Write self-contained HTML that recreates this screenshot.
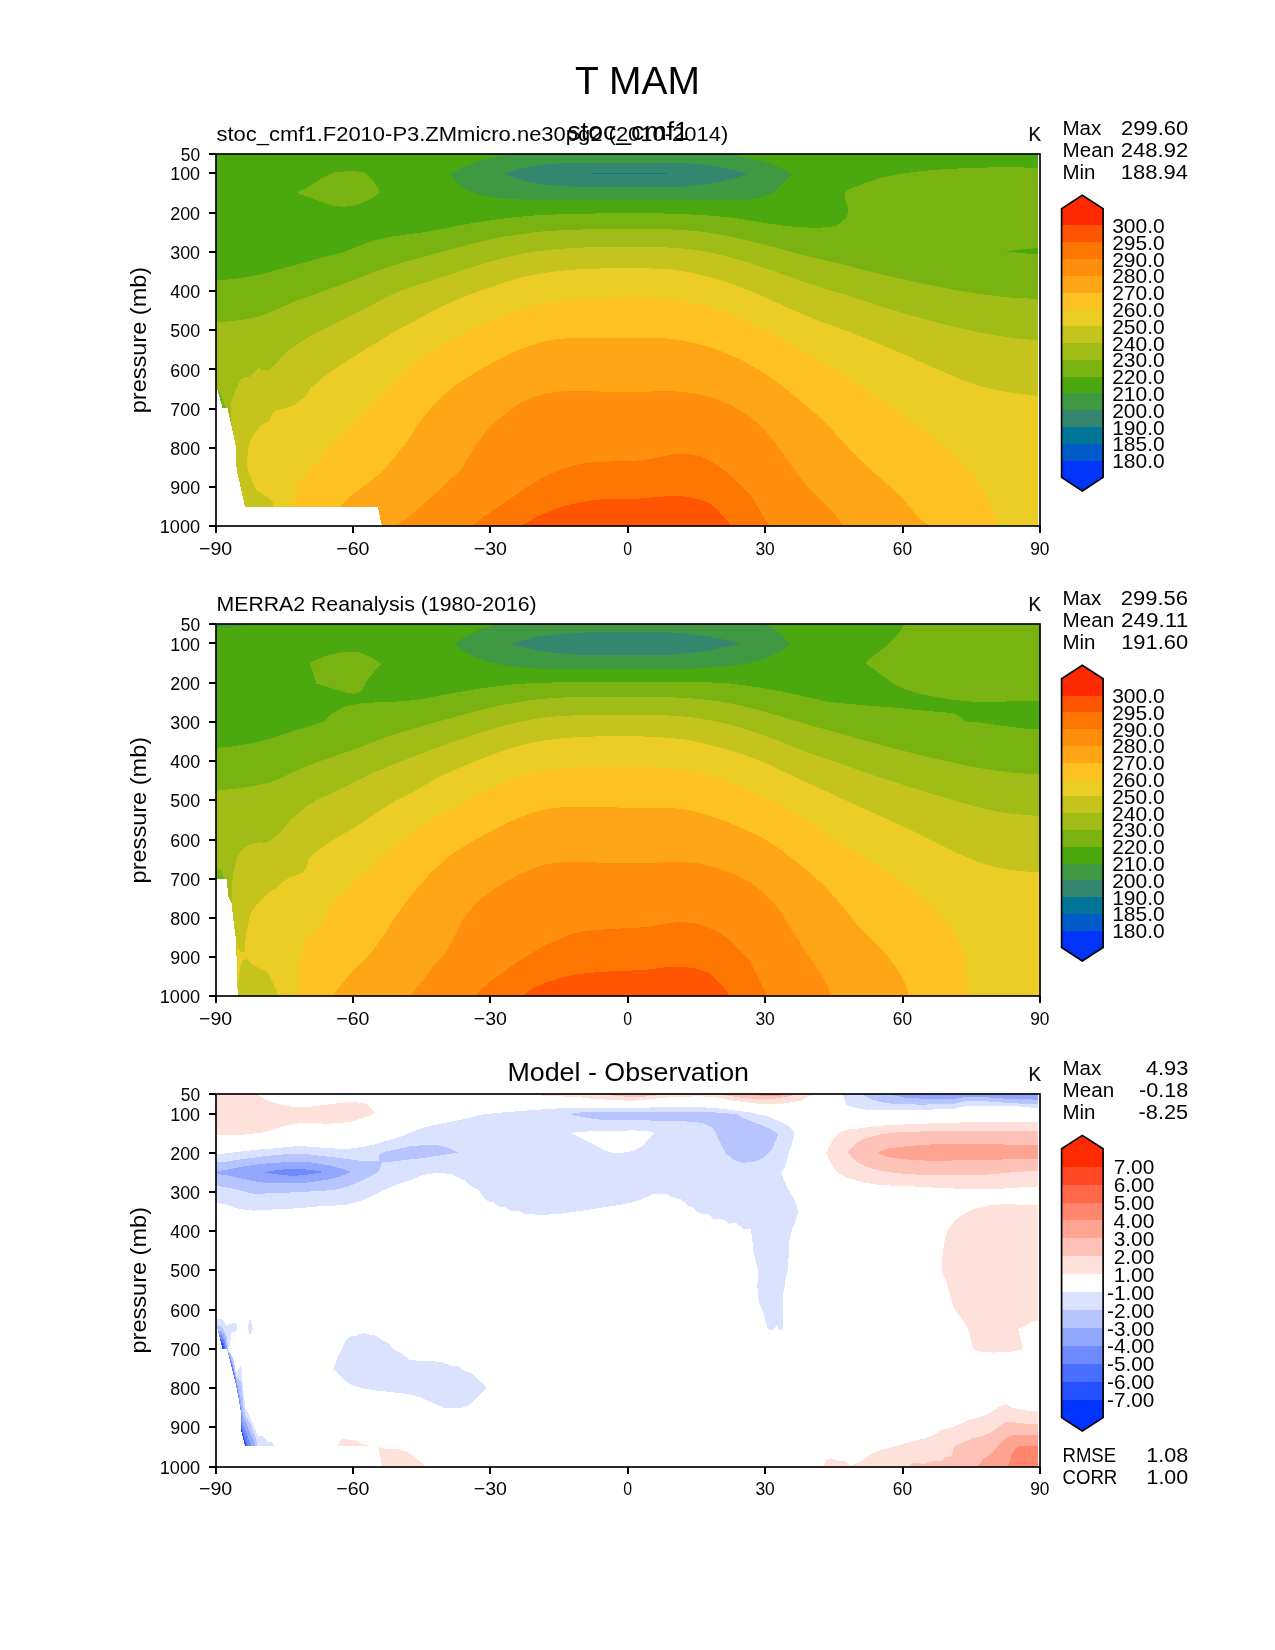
<!DOCTYPE html>
<html lang="en"><head><meta charset="utf-8"><title>T MAM</title>
<style>html,body{margin:0;padding:0;background:#fff}svg{display:block}text{font-family:"Liberation Sans",sans-serif;fill:#000}</style></head>
<body>
<svg width="1275" height="1650" viewBox="0 0 1275 1650">
<rect width="1275" height="1650" fill="#fff"/>
<defs>
<clipPath id="c0"><rect x="216" y="154" width="824" height="372"/></clipPath>
<clipPath id="c1"><rect x="216" y="624" width="824" height="372"/></clipPath>
<clipPath id="c2"><rect x="216" y="1094" width="824" height="373"/></clipPath>
</defs>
<g clip-path="url(#c0)" shape-rendering="crispEdges">
<rect x="215.6" y="153.8" width="822.4" height="372.6" fill="#4ca80f"/>
<polygon points="449.9,173.8 463.6,166.6 476.9,161.6 491.8,157.5 505.1,155 512,153.8 732,153.8 735.4,155 750.4,158.3 763.7,161.6 775.3,165.8 783.7,169.1 792,174.1 783.7,183.3 775.3,191.6 767,195.7 757,198.2 747.1,199.6 717.1,199.9 634,199.9 588.3,200.2 555,200.2 525.1,199.9 505.1,198.6 488.5,196.6 475.2,193.6 463.6,188.2 455.3,180.8" fill="#3f9842"/>
<polygon points="503.8,173.8 515.1,170 530.1,166.6 546.7,164.1 563.3,163 588.3,162.5 634,162.5 667.3,162.8 690.5,163.3 708.8,165.3 725.5,168.3 737.1,170.8 747.9,173.8 733.8,178.6 717.1,182.4 700.5,184.9 683.9,186.6 658.9,186.9 634,186.9 604.9,186.9 571.7,186.6 546.7,184.9 530.1,182.4 515.1,178.3" fill="#35866f"/>
<line x1="591.9" y1="173.4" x2="666.9" y2="173.4" stroke="#007598" stroke-width="0.8"/>
<polygon points="296.8,192.9 309.8,185.8 323.1,177.4 334.7,172.4 348,171.1 359.6,171.6 365.5,173.3 373,180.8 377.9,187.4 379.9,192.9 373,197.4 363,202.4 353,205.7 343,206.9 333,205.7 323.1,202.4 309.8,197.4" fill="#79b311"/>
<polygon points="215.6,280 230,279.4 243.3,277.7 259.9,274.7 276.5,270 293.1,265.6 309.8,261.1 326.4,256.4 343,252.3 351.3,248.9 359.7,245.6 368,242.3 376.3,239.8 392.9,236.5 409.5,234 422,232.6 438.6,229.5 455.3,226.2 471.9,223.2 488.5,220.7 505.1,218.2 521.8,216.5 538.4,215.2 555,214.5 571.7,214 588.3,213.7 604.9,213.2 634,212.7 655.6,213.2 675.6,214 700.5,214.8 717.1,216.2 733.8,217.8 750.4,220.7 767,223.2 783.7,225.7 800.3,227.3 816.9,227.7 828.5,227.3 836.9,225.2 841.9,221.5 846,218.2 848,213 848,207 846.5,203 845,198.5 845,192.5 846,190.7 862.6,184.1 879.3,178.3 895.9,174.6 912.5,172.1 929.1,170.3 945.8,169.1 962.4,168.3 987.3,167.5 1012.3,167.1 1038,168 1038,526.4 215.6,526.4" fill="#79b311"/>
<polygon points="1006.5,251.4 1020.6,249.4 1038,248.1 1038,253.9 1027.2,253.6 1013.9,252.3" fill="#4ca80f"/>
<polygon points="215.6,322.4 230,321.3 243.3,319.6 256.6,317.1 268.2,313 279.8,308 293.1,302.1 309.8,296 326.4,290 343,283.9 359.7,277.7 376.3,271.1 392.9,265.6 409.5,260.6 422,257.3 438.6,252.8 455.3,248.1 471.9,243.9 488.5,239.8 505.1,236.5 521.8,234 538.4,231.8 555,230.6 571.7,229.8 588.3,229.3 604.9,229 634,228.5 658.9,229 680.6,229.8 700.5,231.5 717.1,234 733.8,237.3 750.4,241.1 767,245.1 783.7,249.8 800.3,254.4 816.9,258.4 833.5,262.2 846,265.3 862.6,269.7 879.3,273.9 895.9,277.7 912.5,281.4 929.1,285 945.8,288.3 962.4,291.3 979,293.8 995.7,296 1012.3,297.7 1028.9,298.5 1038,298.8 1038,526.4 215.6,526.4" fill="#a1bc17"/>
<polygon points="217.5,389 222.5,408.2 225.8,408.2 221.6,396.5 219.1,390.7" fill="#79b311"/>
<polygon points="232.4,430 230.8,415 230.8,403.2 235,391.5 240,380 244,377.4 250,376.6 255,371.6 258.7,367.4 261.5,370 268.2,370.4 276.5,363.3 283.2,355 289.8,349 299.8,342.9 309.8,336.2 323.1,329.6 336.4,322.9 351.3,315.4 368,307.1 384.6,298 401.2,290.5 422,283.5 438.6,278.4 455.3,272.7 471.9,267.2 488.5,262.2 505.1,257.7 521.8,253.9 538.4,251.1 555,249.3 571.7,248.1 588.3,247.3 604.9,246.9 634,246.8 654,246.9 673.9,247.8 692.2,249.4 708.8,252.3 725.5,256.1 742.1,260.6 758.7,265.9 775.3,271.7 792,277.7 808.6,283.4 825.2,288.8 846,295 862.6,300.5 879.3,306 895.9,311 912.5,315.8 929.1,320.4 945.8,324.9 962.4,328.7 979,332.4 995.7,335.4 1012.3,337.9 1028.9,339.6 1038,340.1 1038,526.4 232.4,526.4" fill="#c4c41d"/>
<polygon points="273.2,506.6 272.4,501.3 264.9,495.4 256.6,490.5 252.4,481.3 248.6,473 246.9,463 247.9,449.7 249.9,441.4 254.9,433.1 259.9,426.4 264.9,423.1 269,420.6 273.2,413.1 276.5,410.1 283.2,409 293.1,405.7 299.8,400.7 305.6,396.5 309.8,389 316.4,383.2 326.4,374.9 339.7,365.7 351.3,358.3 368,347.5 376.3,342.9 389.6,334.6 401.2,327.9 412.9,322.1 422,316.9 438.6,308 455.3,300.5 471.9,293.8 488.5,288 505.1,282.2 521.8,277.2 538.4,273.9 555,271.4 571.7,269.7 588.3,268.9 604.9,268.4 634,268.1 650.6,268.4 670.6,269.4 688.9,272.2 705.5,276 722.1,280.5 738.8,286.3 755.4,293 772,300.5 788.6,308 805.3,315.4 821.9,322.1 846,330.4 862.6,337.3 879.3,344 895.9,350.8 912.5,358.3 929.1,365.7 945.8,372.9 962.4,379.9 979,385.7 995.7,389.9 1012.3,392.9 1028.9,394.8 1038,396 1038,526.4 273.2,526.4" fill="#ebcc25"/>
<polygon points="295.1,506.6 295.1,486.3 300.6,477.7 304,480.5 306.4,474.7 311.4,464.7 318.1,462.2 321.4,456.4 326.4,448.9 336.4,439.7 346.3,429.8 359.7,418.1 373,404.8 382.9,394 392.9,383.2 404.5,371.6 414.5,363.3 422,357.5 438.6,346.6 455.3,337.5 463.6,333.7 480.2,325.4 496.8,317.9 513.5,311.3 530.1,306.3 546.7,302.6 563.3,300.1 580,298.8 596.6,298 613.2,297.5 634,297.2 650.6,297.5 667.3,298.5 683.9,301 700.5,304.6 717.1,309.3 733.8,315.4 750.4,322.9 767,330.6 783.7,339.8 800.3,349.3 816.9,358.3 833.5,368.6 846,376.8 862.6,387.4 879.3,398.5 895.9,409.8 912.5,421.8 929.1,433.9 945.8,447.2 962.4,463 975.7,478 984,490.5 990.7,502.9 995.7,516.2 998.1,526.4 295.1,526.4" fill="#fec122"/>
<polygon points="339.7,506.6 348,498 359.7,488.8 373,479.7 382.9,470.5 392.9,459.7 401.2,448.9 409.5,438.1 416.2,427.3 422,419 432,406.5 442,396.5 451.9,388.2 463.6,379.9 476.9,371.6 491.8,363.3 505.1,356.6 518.4,350 530.1,345.6 541.7,342 555,339.3 568.3,338.2 588.3,337.7 634,337.7 650.6,337.8 667.3,338.5 683.9,340.8 700.5,344.5 717.1,349.6 733.8,356.6 750.4,364.9 767,374.9 783.7,387.4 800.3,400.7 816.9,414.8 833.5,431.4 846,444.7 854.3,453.9 862.6,462.2 870.9,469.7 879.3,477.2 887.6,484.6 895.9,492.1 902.5,497.9 907.5,504.6 912.5,510.4 917.5,516.2 922.5,521.2 929.1,524.9 932,526.4 339.7,526.4" fill="#ffa616"/>
<polygon points="396,526.4 397.9,524.9 409.5,516.2 422,505.5 432,496.3 442,488 451.9,478 461.9,468.8 466.9,459.7 471.9,451.4 476.9,443.1 483.5,434.8 490.2,426.4 500.2,418.1 510.1,409.8 521.8,402.3 535.1,396.5 548.4,392.9 563.3,391.2 588.3,391.2 613.2,391.9 634,392 650.6,391.5 667.3,391 683.9,391.9 700.5,394.5 717.1,399 733.8,406.5 747.1,414.8 758.7,423.9 767,433.1 775.3,443.1 783.7,454.7 792,466.3 800.3,478 808.6,488 816.9,496.3 825.2,504.6 833.5,512.9 840.2,521.2 844.3,526.4 396,526.4" fill="#ff8f0c"/>
<polygon points="471.1,526.4 480.2,519.6 491.8,511.2 501.8,504.6 511.8,497.9 521.8,490.5 531.7,483.8 545,476.3 558.4,470.5 571.7,466 585,463 598.3,461.9 613.2,461.4 634,460.8 647.3,459.4 660.6,456.7 673.9,454.4 687.2,453.9 700.5,456.4 712.2,462.2 723.8,469.7 733.8,478 742.1,486.3 750.4,494.6 755.4,502.9 760.4,511.2 765.4,519.6 769.5,526.4 471.1,526.4" fill="#ff7703"/>
<polygon points="520.1,526.4 530.1,520.4 541.7,514.6 555,509.2 568.3,504.9 581.6,502.1 594.9,499.9 608.2,499.1 621.5,498.9 634,498.9 647.3,497.9 660.6,496.8 673.9,495.9 687.2,496.8 700.5,499.6 710.5,503.8 717.1,509.6 723.8,517.1 730.4,524.5 731.5,526.4 520.1,526.4" fill="#ff5400"/>
<polygon points="215.6,386 217.5,390 222.5,408 227.5,408.5 231.6,426.4 235.8,446.4 236.6,469.7 240.8,488 244.9,506.6 377.9,506.6 381.6,524.9 382,526.4 215.6,526.4" fill="#fff"/>
</g>
<g clip-path="url(#c1)" shape-rendering="crispEdges">
<rect x="215.6" y="623.9" width="824.3" height="372.6" fill="#4ca80f"/>
<polygon points="453.9,643.8 466.9,635.8 480.2,629.6 493.5,625.3 496.8,623.9 765,623.9 767,625 775.3,629.1 783.7,636.6 789.8,643.6 783.7,649.1 775.3,654.1 763.7,659.1 750.4,662.9 737.1,665.2 723.8,666.6 708.8,667.7 687.2,668.9 634,668.9 604.9,669.1 571.7,669.2 548.4,669.1 530.1,668.2 515.1,667.1 500.2,664.9 485.2,661.2 471.9,655.7 461.9,649.9" fill="#3f9842"/>
<polygon points="215.6,623.9 248,624.8 215.6,627.8" fill="#3f9842"/>
<polygon points="509.8,643.8 521.8,640.3 538.4,636.6 555,634.6 571.7,633.3 593.3,632.1 634,631.6 660.6,632 683.9,633.3 703.8,635.8 720.5,638.8 733.8,641.9 740.4,643.6 733.8,645.3 723.8,647.4 707.2,650.8 690.5,652.9 673.9,654.6 634,654.9 588.3,654.9 571.7,654.4 555,652.9 538.4,650.4 521.8,646.9" fill="#35866f"/>
<polygon points="865.1,662.9 875.9,654.1 887.6,644.9 895.9,636.6 900.9,630 905,623.9 1039.9,623.9 1039.9,701 1005.6,701.5 987.3,701.8 970.7,701.5 954.1,700.1 937.5,697.3 920.8,694 904.2,689 892.6,683.2 879.3,673.2" fill="#79b311"/>
<polygon points="309.8,662.4 326.4,655.7 341.4,652.1 358,652.1 368,655.7 381.3,663.6 373,673.2 365.5,682.4 361.3,691.5 354.7,693.7 348,693.2 336.4,689.8 326.4,686.5 316.4,683.5 313.1,673.2" fill="#79b311"/>
<polygon points="215.6,748 230,746.7 243.3,744.7 256.6,742.2 269.9,738.9 283.2,734.4 296.5,730.1 309.8,726.1 323.9,721.4 329.7,715.6 336.4,710.6 346.3,706.1 359.7,703.6 376.3,702.3 392.9,701.8 409.5,700.6 422,699.2 438.6,695.7 455.3,692.7 471.9,689.8 488.5,687.3 505.1,685.2 521.8,683.7 538.4,682.9 555,682.4 588.3,682 634,681.9 667.3,682 700.5,682 712.2,682.5 730.4,683.5 747.1,685.7 763.7,688.2 780.3,691.2 797,694.8 813.6,698.6 826.9,701.5 840.2,703.1 846,703.6 862.6,705.1 879.3,706.5 895.9,707.8 912.5,709.5 929.1,711.1 945.8,712.5 954.1,713.4 960.7,717.3 964.9,721.4 979,722.3 995.7,724.8 1012.3,726.9 1025.6,728.6 1039.9,728.9 1039.9,996.5 215.6,996.5" fill="#79b311"/>
<polygon points="215.6,790.9 230,789.3 243.3,787.6 256.6,785.4 268.2,783 279.8,778.8 293.1,772.1 306.4,766.3 319.7,761.3 333,756.7 346.3,752.2 359.7,747.2 373,742.2 386.3,737.2 399.6,732.7 412.9,728.9 422,726.2 438.6,721.4 455.3,716.8 471.9,712.3 488.5,708.1 505.1,704.5 521.8,701.5 538.4,699.3 555,697.8 571.7,697.2 588.3,696.8 634,696.7 658.9,697 680.6,697.7 700.5,699 717.1,701 733.8,704 750.4,708.1 767,712.3 783.7,717.3 800.3,722.3 816.9,727.2 833.5,731.7 846,735.1 862.6,740.1 879.3,744.4 895.9,748.9 912.5,753 929.1,757.2 945.8,761 962.4,764.7 979,768 995.7,770.5 1012.3,772.6 1028.9,773.8 1039.9,774.1 1039.9,996.5 215.6,996.5" fill="#a1bc17"/>
<polygon points="215.6,868 221,869 224,878.5 215.6,878.5" fill="#79b311"/>
<polygon points="232.4,906.4 231.9,886.5 233.3,873.2 237.4,856.5 241.6,849.9 249.9,844.1 258.2,842.4 264.9,842.7 271.5,839.9 279.8,832.4 289.8,821.1 299.8,811.4 309.8,803.9 323.1,797.1 336.4,790.9 349.7,784.6 363,778 376.3,771.6 389.6,766 402.9,760.5 416.2,755.5 422,753.2 438.6,747.2 455.3,741.1 471.9,735.6 488.5,730.1 505.1,725.3 521.8,721.4 538.4,718.4 555,716.4 571.7,715.4 588.3,714.9 634,714.8 654,715.1 673.9,715.6 690.5,717.3 707.2,719.8 723.8,723.1 740.4,727.7 757,733.1 773.7,738.9 790.3,745.5 806.9,752.2 823.6,758 840.2,763.3 846,765.7 862.6,771.6 879.3,777.1 895.9,782.6 912.5,787.9 929.1,792.9 945.8,797.9 962.4,802.8 979,807.5 995.7,811.2 1012.3,813.8 1028.9,815.3 1039.9,815.9 1039.9,996.5 232.4,996.5" fill="#c4c41d"/>
<polygon points="236.6,946.3 240.8,952.1 244.9,951.3 244.9,943 246.6,931.4 249.1,919.7 251.6,911.4 256.6,904.8 263.2,898.1 269.9,891.5 276.5,888.1 283.2,881.5 289.8,877.3 296.5,875.2 303.1,872.3 306.4,867.3 308.9,859 313.1,854 323.1,846.6 333,839.9 343,834.1 356.3,826.6 369.6,817.5 382.9,808.5 396.2,800.4 409.5,793.8 422,786.7 438.6,777.1 455.3,769.7 471.9,762.7 488.5,756 505.1,750 521.8,745 538.4,741.4 555,738.9 571.7,737.6 588.3,736.7 604.9,736.1 634,735.9 650.6,736.9 667.3,737.7 683.9,739.4 700.5,742.5 717.1,746.7 733.8,751.4 750.4,757.2 767,763.8 783.7,771.6 800.3,779.6 816.9,787.1 833.5,794.6 846,800.7 862.6,808.1 879.3,815.6 895.9,823.3 912.5,830.8 929.1,839.1 945.8,847.4 962.4,855.4 979,862.4 995.7,867.3 1012.3,870.3 1028.9,871.8 1039.9,872 1039.9,996.5 236.6,996.5" fill="#ebcc25"/>
<polygon points="238.3,996.5 237.5,985 240.8,964.6 243.3,960 247.4,959.3 251.6,963.8 259.9,968.8 267.4,972.1 270.7,978.7 275.7,987.9 278.5,996.5" fill="#c4c41d"/>
<polygon points="299,996.5 297.3,982.9 298.1,971.3 300.6,959.6 303.9,948 306.4,939.7 311.4,933 316.4,928.9 321.4,924.7 324.7,916.4 329.7,908.1 338,898.1 348,888.1 359.7,877.3 373,865.7 386.3,853.2 399.6,842.4 412.9,832.4 422,825.7 438.6,815.8 455.3,806.7 463.6,802.1 480.2,793.8 496.8,785.9 513.5,778.8 530.1,773.3 546.7,769.7 563.3,768 580,767.3 604.9,767 634,766.8 650.6,767.2 667.3,768 683.9,770.1 700.5,773.3 717.1,777.6 733.8,783.5 750.4,790.4 767,797.9 774.5,800.5 783.7,806.4 792,811.3 808.6,821.6 825.2,832.4 846,846.7 862.6,856.5 879.3,867.3 895.9,878.2 912.5,889.8 925.8,901.4 939.1,913.1 949.1,924.7 957.4,936.3 962.4,948 965.7,959.6 966.9,972.9 966.9,996.5 299,996.5" fill="#fec122"/>
<polygon points="332.2,996.5 341.4,984.6 351.3,972.1 363,961.3 373,950.5 379.6,941.3 386.3,931.4 394.6,918.1 402.9,906.4 411.2,895.6 422,882.7 432,871.5 442,862.4 451.9,854 463.6,846.6 476.9,839.1 491.8,830.8 505.1,823.8 516.8,818.7 528.4,814 541.7,810 555,807.7 571.7,807.1 604.9,807.1 634,808 654,807.9 675.6,808.3 692.2,810.8 708.8,815.3 725.5,821 742.1,828.3 758.7,835.7 775.3,845.7 792,858.2 808.6,871.5 825.2,886.5 836.9,899.8 846,911.1 856,923 867.6,934.7 879.3,946.3 889.2,958 897.5,969.6 903.4,979.6 906.7,987.9 908.9,996.5 332.2,996.5" fill="#ffa616"/>
<polygon points="409.5,996.5 422,981.6 432,967.9 443.6,955.5 450.3,944.7 456.9,931.4 463.6,918.1 471.9,908.1 481.9,898.1 493.5,889.8 505.1,882.3 518.4,874.8 531.7,869 545,864.5 558.4,862.4 571.7,861.5 591.6,862.4 613.2,862.9 634,862.9 650.6,862.9 667.3,862 683.9,862 700.5,863.7 717.1,867.8 733.8,874 750.4,882.3 763.7,893.1 775.3,904.8 783.7,916.4 790.3,928 798.6,939.7 805.3,951.3 813.6,963 820.2,972.9 825.2,981.2 828.5,987.9 831,996.5 409.5,996.5" fill="#ff8f0c"/>
<polygon points="473.5,996.5 483.5,987.1 495.2,977.9 506.8,969.6 518.4,961.3 531.7,953 545,945.5 558.4,939.7 571.7,933.9 581.6,931.4 598.3,929.7 614.9,928.9 634,927.7 647.3,927.2 662.3,923.9 677.2,922.2 692.2,922.7 705.5,926.4 718.8,932.2 730.4,940.5 740.4,950.5 748.7,958.8 753.7,967.9 758.7,977.9 763.7,987.9 767,996.5 473.5,996.5" fill="#ff7703"/>
<polygon points="521.8,996.5 531.7,988.7 545,982.9 558.4,978.7 571.7,975.4 585,973.3 598.3,972.1 611.6,971.3 634,970.4 650.6,969.3 667.3,966.8 683.9,966.8 697.2,968.8 710.5,973.8 718.8,982.1 725.5,989.6 730.4,996.5 521.8,996.5" fill="#ff5400"/>
<polygon points="215.6,878.5 226.6,878.5 228.3,896.4 231.6,903.1 233.3,919.7 235.8,938 236.6,958 236.6,982.9 238.3,994.9 238.5,996.5 215.6,996.5" fill="#fff"/>
</g>
<g clip-path="url(#c2)" shape-rendering="crispEdges">
<polygon points="215.6,1093.9 258.2,1093.9 258.2,1095.8 266.5,1100 279.8,1104.6 293.1,1107 309.8,1106.6 326.4,1104.6 339.7,1103 351.3,1102 364.6,1103 369.6,1106.6 375.1,1112.9 368,1116.3 359.7,1119.1 351.3,1121.6 339.7,1123.3 326.4,1123.6 313.1,1123.3 299.8,1123.3 289.8,1124.6 279.8,1127.4 269.9,1130.7 259.9,1132.9 243.3,1134.6 226.6,1134.9 215.6,1134.9" fill="#ffe1db"/>
<polygon points="215.6,1154.5 230,1152.9 243.3,1151.2 259.9,1149.5 276.5,1148.2 293.1,1146.5 303.1,1146.2 318.1,1147.4 334.7,1148.5 351.3,1148.5 364.6,1146.5 376.3,1144 389.6,1139.9 401.2,1136.6 412.9,1131.6 422,1127.9 438.6,1124.1 455.3,1120.8 471.9,1117.4 480.2,1114.9 496.8,1112.9 513.5,1111.6 530.1,1110.3 546.7,1109.1 563.3,1108 588.3,1108 634,1108 662.3,1107.1 700.5,1107.1 717.1,1108.3 733.8,1110.3 750.4,1112.4 767,1116.3 778.7,1120.8 788.6,1125.7 793.6,1131.6 793.6,1138.2 790.3,1148.2 787,1159.8 784.5,1168.2 781.2,1172.3 783.7,1179.8 788.6,1189.8 793.6,1198.1 797,1206.4 798.3,1212.2 796.1,1219.7 792,1229.7 789.5,1239.7 788.6,1256.3 787.8,1270 786.1,1276.7 784.5,1286.6 782.5,1298.3 782.5,1329 781.2,1330.7 778.7,1329 776.5,1324.9 774.5,1328.2 771.2,1330.7 767.9,1329 766.2,1323.2 762.9,1311.6 758.7,1301.6 757.4,1286.6 757.9,1269.6 755.4,1259.6 752.9,1248 752.1,1236.3 750.4,1228.8 743.7,1228.8 735.4,1222.5 729.6,1223.9 722.1,1218.9 713.8,1218.9 708,1213.9 699.7,1213.4 692.2,1207.2 688.9,1206.4 680.6,1198.9 673.9,1198.1 667.3,1194.4 652.3,1194.4 642.3,1198.9 634,1202 621.5,1204.7 604.9,1207.2 588.3,1209.7 571.7,1212.2 555,1214.4 538.4,1214.7 525.1,1213.9 520.1,1211.4 511.8,1210.9 505.1,1207.2 498.5,1206.4 493.5,1202.2 488.5,1201.4 483.5,1197.2 478.5,1189.8 470.2,1185.6 465.2,1180.6 458.6,1178.1 451.9,1174 437,1172.8 422,1175.2 409.5,1180.6 396.2,1184.8 384.6,1189.8 376.3,1193.9 369.6,1197.2 359.7,1201.4 346.3,1204.7 334.7,1205.6 318.1,1206.4 301.5,1208.1 284.8,1208.9 268.2,1209.7 253.2,1210.6 243.3,1209.7 234.9,1207.7 226.6,1204.7 215.6,1202.7" fill="#dbe2ff"/>
<polygon points="570,1132.9 581.6,1131.9 594.9,1131.1 634,1130.4 650.6,1131.6 654.3,1133.6 647.3,1140.7 640.7,1147.4 634,1150.2 629.9,1151.5 621.5,1152.9 609.9,1152.4 601.6,1149 591.6,1143.2 580,1137.4" fill="#fff"/>
<polygon points="215.6,1162.3 226.6,1161.5 243.3,1159 259.9,1156.8 276.5,1154.8 293.1,1154 309.8,1154.5 326.4,1156.5 343,1158.5 359.7,1160.7 376.3,1161.2 378.8,1160.7 379.3,1154 386.3,1151.5 397.9,1149 409.5,1146.5 422,1145.2 437,1144.9 446.9,1147.4 458.2,1152.4 438.6,1155.7 422,1158.2 406.2,1159.8 392.9,1161.5 382.9,1162.3 381.3,1164.8 377.9,1172.3 369.6,1176.5 359.7,1181.5 348,1186.4 334.7,1189.8 318.1,1191.1 301.5,1191.8 284.8,1192.8 268.2,1193.4 254.9,1193.9 243.3,1191.4 226.6,1187.3 215.6,1185.6" fill="#b6c5ff"/>
<polygon points="215.6,1171.5 226.6,1169.8 243.3,1166.5 259.9,1164 276.5,1162.7 293.1,1162 309.8,1162.3 326.4,1164.8 339.7,1168.2 351.3,1172 339.7,1176.5 326.4,1179.8 309.8,1182.3 293.1,1183.4 276.5,1183.4 259.9,1182.3 243.3,1179 226.6,1175.1 215.6,1174" fill="#92a8ff"/>
<polygon points="263.2,1172.3 276.5,1170.1 293.1,1168.6 309.8,1169.8 323.9,1172 309.8,1174.3 293.1,1176 276.5,1174.3" fill="#6d8aff"/>
<polygon points="569.2,1114.1 586.6,1111.6 604.9,1111.6 634,1111.6 667.3,1111.6 710.5,1112.1 737.1,1114.1 743.7,1118.3 758.7,1124.1 772,1129.9 778.3,1134.1 775.3,1141.5 771.2,1150.7 765.4,1156.5 757,1161.2 743.7,1162.8 733.8,1159.8 725.5,1153.2 720.5,1143.2 715.5,1132.4 712.2,1127.4 703.8,1123.3 690.5,1121.6 658.9,1120.8 634,1119.9 601.6,1119.9 591.6,1118.6 580,1116.6" fill="#b6c5ff"/>
<polygon points="488.5,1093.9 551.7,1095.8 581.6,1097.5 594.9,1099.1 618.2,1100.3 634,1100.8 650.6,1099.1 667.3,1097.5 683.9,1096.7 700.5,1096.3 717.1,1097.5 733.8,1100.8 757,1103.6 783.7,1103.6 800.3,1100.8 810.3,1095.8 812,1093.9" fill="#ffe1db"/>
<polygon points="596.6,1093.9 634,1097.5 655,1095.5 660,1093.9" fill="#ffc2b6"/>
<polygon points="720,1093.9 723.8,1095 740.4,1097.5 757,1099.1 775.3,1098.6 792,1095.8 795,1093.9" fill="#ffc2b6"/>
<polygon points="750,1093.9 765,1096.5 780,1096 785,1093.9" fill="#ffa492"/>
<polygon points="843,1093.9 846,1105 854.3,1107.5 866,1109.6 895.9,1109.6 929.1,1109.6 952.4,1109.1 962.4,1106.6 979,1105.8 1012.3,1105.8 1038,1108.3 1038,1093.9" fill="#dbe2ff"/>
<polygon points="861,1093.9 870.9,1099.1 882.6,1102.5 895.9,1104.1 920.8,1104.6 952.4,1104.1 962.4,1101.6 979,1100.8 995.7,1102 1012.3,1103.3 1038,1104.1 1038,1093.9" fill="#b6c5ff"/>
<polygon points="887.6,1093.9 904.2,1097.5 920.8,1098.6 939.1,1099.1 952.4,1099.1 962.4,1097.5 979,1096.7 995.7,1098 1012.3,1099.1 1038,1099.6 1038,1093.9" fill="#92a8ff"/>
<polygon points="826,1153.2 831.9,1141.5 838.5,1133.2 846,1129.9 862.6,1127.9 879.3,1125.7 912.5,1124.1 945.8,1122.9 979,1121.9 1012.3,1121.9 1038,1122.4 1038,1186.4 1012.3,1188.1 995.7,1188.9 962.4,1188.9 937.5,1187.8 912.5,1186.4 879.3,1185.1 862.6,1182.3 846,1177.6 836,1171.5 830.2,1161.5" fill="#ffe1db"/>
<polygon points="847.7,1152.4 856,1143.2 866,1138.2 879.3,1134.6 895.9,1132.4 929.1,1131.1 979,1130.7 1038,1131.1 1038,1170.6 1012.3,1172.3 987.3,1174.5 954.1,1175.1 920.8,1174.8 895.9,1173.1 879.3,1170.6 866,1166.5 856,1161.5" fill="#ffc2b6"/>
<polygon points="876.8,1152.9 889.2,1148.2 912.5,1145.7 937.5,1144 992.3,1144 1012.3,1144.9 1038,1144.9 1038,1158.7 1012.3,1159 987.3,1160.2 929.1,1160.7 909.2,1159.8 889.2,1157.3" fill="#ffa492"/>
<polygon points="1038,1204.7 1002.3,1204.4 987.3,1205.6 972.4,1209.7 962.4,1214.7 954.1,1221.4 947.4,1231.3 944.1,1243 942.4,1256.3 941.6,1270 945.8,1280 949.1,1291.6 952.4,1303.3 954.9,1309.9 960.7,1317.4 967.4,1327.4 969.9,1334.8 971.5,1343.2 973.7,1349.8 979,1351.5 987.3,1351.5 994,1352.6 1012.3,1351.5 1022.3,1349.5 1022.6,1347.3 1019.8,1336.5 1018.1,1329 1023.9,1326.5 1030.6,1322.4 1038,1320.7" fill="#ffe1db"/>
<polygon points="822.7,1466.5 826.9,1459.6 831,1457.9 835.2,1460.4 846,1460.9 849.5,1465.5 853.5,1464.9 862.6,1460.4 872.6,1452.9 882.6,1449.6 895.9,1446.3 912.5,1440.9 924.2,1438.8 934.1,1434.6 942.4,1429.6 952.4,1427.1 962.4,1423 972.4,1418.8 982.3,1416.3 992.3,1411.3 1000.6,1406 1005.6,1404.4 1012.3,1407.7 1022.3,1409.7 1028.9,1411 1038,1411 1038,1466.5" fill="#ffe1db"/>
<polygon points="909.2,1466.5 912.5,1462.9 924.2,1463.7 932.5,1461.2 942.4,1461.2 944.9,1457.1 950.8,1457.1 954.1,1446.3 962.4,1442.9 972.4,1438.3 984,1435.4 994,1430.5 1000.6,1425.5 1005.6,1422.1 1012.3,1422.1 1025.6,1423.8 1038,1424.3 1038,1466.5" fill="#ffc2b6"/>
<polygon points="977.4,1466.5 984,1458.7 992.3,1452.9 999,1444.6 1006.5,1437.6 1012.3,1435.4 1038,1434.6 1038,1466.5" fill="#ffa492"/>
<polygon points="1008.1,1466.5 1012.3,1452.9 1015.6,1447.9 1020.6,1445.9 1038,1445.9 1038,1466.5" fill="#ff856d"/>
<polygon points="336.4,1446.6 342.2,1438.3 348,1439.9 356.3,1440.4 361.3,1443.8 372.1,1446.2 372.1,1446.6" fill="#ffe1db"/>
<polygon points="377.9,1447.1 386.3,1448.7 397.9,1449.2 406.2,1451.6 412.9,1455.4 422,1462.9 425.3,1466.5 382.1,1466.5 380.4,1456.2" fill="#ffe1db"/>
<polygon points="333.4,1368.4 337.2,1358.1 341.4,1349.8 346.3,1339.8 351.3,1336.2 356.3,1335.7 363,1332.9 369.6,1334.8 376.3,1335.7 381.3,1339.8 387.9,1342.8 394.6,1349.8 401.2,1353.1 409.5,1359.8 422,1361.1 432,1361.1 442,1362.3 450.3,1365.6 458.6,1366.4 465.2,1371.4 471.9,1373.1 477.7,1379.7 483.5,1383.9 486,1388.1 480.2,1394.7 475.2,1399.7 470.2,1404.7 461.9,1407.7 443.6,1407.7 435.3,1403.9 428.7,1401.4 422,1397.7 409.5,1394.4 392.9,1392.2 376.3,1390.6 363,1388.4 353,1385.6 346.3,1382.2 339.7,1374.8" fill="#dbe2ff"/>
<polygon points="215.5,1318.2 220.9,1319.1 223.6,1320.9 226.4,1325.9 230.9,1323.6 235.9,1323.2 236.8,1326.4 236.4,1330.9 231.4,1332.7 230.9,1338.2 229.5,1346.4 228.2,1350 230.5,1354.5 233.2,1362.7 235.5,1373.6 240.5,1366.4 241.8,1368.2 241.8,1377.3 242.7,1382.7 243.6,1391.8 244.5,1400.9 245,1407.3 247.3,1411.8 250,1417.3 252.7,1423.6 255.5,1430 257.7,1436.4 262.7,1436.4 268.2,1441.8 272.3,1442.3 273.6,1445.5 273.6,1446.4 245,1446.4 240.5,1428.2 240.5,1410 239.1,1400.9 235.5,1382.7 231.8,1368.2 228.2,1353.6 226.8,1348.6 222.3,1348.6 217.3,1328.2 215.5,1318.2" fill="#dbe2ff"/>
<polygon points="215.5,1325 220,1325.9 222.3,1327.3 224.5,1331.8 226.8,1336.4 227.7,1344.5 227.5,1349.1 229.3,1351.8 232.5,1357.3 235.2,1368.2 236.4,1377.3 240,1380 241.4,1382.7 241.8,1391.8 243.2,1400.9 243.6,1408.2 245.9,1417.3 250,1422.7 252.7,1430.9 255.5,1437.3 257.7,1446.4 245,1446.4 240.5,1428.2 240.5,1410 239.1,1400.9 235.5,1382.7 231.8,1368.2 228.2,1353.6 226.8,1348.6 222.3,1348.6 217.3,1328.2 215.5,1318.2" fill="#b6c5ff"/>
<polygon points="215.5,1329.5 220.9,1331.4 223.6,1334.5 225.9,1340 226.9,1348.6 228.9,1352.7 230.5,1355.5 233.2,1366.4 235.5,1375.5 237.1,1382.7 239.1,1391.8 240.9,1400.9 242.3,1410 243.2,1417.3 246.4,1423.6 250,1432.7 253.6,1440 255,1446.4 245,1446.4 240.5,1428.2 240.5,1410 239.1,1400.9 235.5,1382.7 231.8,1368.2 228.2,1353.6 226.8,1348.6 222.3,1348.6 217.3,1328.2 215.5,1318.2" fill="#92a8ff"/>
<polygon points="215.5,1332.7 221.8,1335.5 224.5,1340.9 226,1348.6 222.3,1348.6 217.3,1328.2" fill="#6d8aff"/>
<polygon points="228.2,1353.6 229.8,1356.8 232.4,1364.5 234.5,1373.6 236.5,1382.7 238.9,1397.3 240.7,1408.2 241.4,1414.5 242.9,1424.5 246.4,1432.7 249.3,1440.9 251.4,1446.4 245,1446.4 240.5,1428.2 240.5,1410 239.1,1400.9 235.5,1382.7 231.8,1368.2" fill="#6d8aff"/>
<polygon points="216.4,1335.5 222.7,1340.5 224.5,1345.9 225.2,1348.6 222.3,1348.6 217.7,1330" fill="#496dff"/>
<polygon points="229.1,1355.5 231.3,1363.6 233.5,1372.7 235.1,1379.1 235.5,1382.7 231.8,1368.2" fill="#496dff"/>
<polygon points="240.5,1417.3 241.4,1424.5 243.2,1431.8 245.9,1439.5 248,1446.4 245,1446.4 240.5,1428.2" fill="#496dff"/>
<polygon points="218.2,1337.3 222.3,1342.7 223.6,1346.4 224.1,1348.6 222.3,1348.6" fill="#2450ff"/>
<polygon points="240.5,1423.6 241.8,1430.9 244.1,1438.2 246.4,1446.4 245,1446.4 240.5,1428.2" fill="#2450ff"/>
<polygon points="249.1,1320 250.9,1320.5 252.7,1328.6 251.4,1333.6 249.1,1333.6 248,1328.2" fill="#dbe2ff"/>
<polygon points="210,1315.5 215.5,1318.2 217.3,1328.2 222.3,1348.6 226.8,1348.6 228.2,1353.6 231.8,1368.2 235.5,1382.7 239.1,1400.9 240.5,1410 240.5,1428.2 245,1446.4 245,1446.4 377.9,1446.4 381.6,1464.5 381.8,1467.3 210,1467.3" fill="#fff"/>
</g>
<path d="M215 526h2v7h-2zM352 526h2v7h-2zM489 526h2v7h-2zM627 526h2v7h-2zM764 526h2v7h-2zM902 526h2v7h-2zM1039 526h2v7h-2zM209 153h7v2h-7zM209 172h7v2h-7zM209 212h7v2h-7zM209 251h7v2h-7zM209 290h7v2h-7zM209 329h7v2h-7zM209 368h7v2h-7zM209 408h7v2h-7zM209 447h7v2h-7zM209 486h7v2h-7zM209 525h7v2h-7z" fill="#000" shape-rendering="crispEdges"/>
<rect x="216" y="154" width="824" height="372" fill="none" stroke="#000" stroke-width="1.667"/>
<path d="M215 996h2v7h-2zM352 996h2v7h-2zM489 996h2v7h-2zM627 996h2v7h-2zM764 996h2v7h-2zM902 996h2v7h-2zM1039 996h2v7h-2zM209 623h7v2h-7zM209 642h7v2h-7zM209 682h7v2h-7zM209 721h7v2h-7zM209 760h7v2h-7zM209 799h7v2h-7zM209 839h7v2h-7zM209 878h7v2h-7zM209 917h7v2h-7zM209 956h7v2h-7zM209 995h7v2h-7z" fill="#000" shape-rendering="crispEdges"/>
<rect x="216" y="624" width="824" height="372" fill="none" stroke="#000" stroke-width="1.667"/>
<path d="M215 1467h2v7h-2zM352 1467h2v7h-2zM489 1467h2v7h-2zM627 1467h2v7h-2zM764 1467h2v7h-2zM902 1467h2v7h-2zM1039 1467h2v7h-2zM209 1093h7v2h-7zM209 1113h7v2h-7zM209 1152h7v2h-7zM209 1191h7v2h-7zM209 1230h7v2h-7zM209 1269h7v2h-7zM209 1309h7v2h-7zM209 1348h7v2h-7zM209 1387h7v2h-7zM209 1426h7v2h-7zM209 1466h7v2h-7z" fill="#000" shape-rendering="crispEdges"/>
<rect x="216" y="1094" width="824" height="373" fill="none" stroke="#000" stroke-width="1.667"/>
<clipPath id="cb0"><polygon points="1061.6,208.6 1082.3,195.2 1103.1,208.6 1103.1,477.4 1082.3,490.9 1061.6,477.4"/></clipPath>
<g clip-path="url(#cb0)" shape-rendering="crispEdges">
<rect x="1060.6" y="194.2" width="43.5" height="297.7" fill="#ff2900"/>
<rect x="1060.6" y="225" width="43.5" height="266.9" fill="#ff5400"/>
<rect x="1060.6" y="242" width="43.5" height="249.9" fill="#ff7703"/>
<rect x="1060.6" y="259" width="43.5" height="232.9" fill="#ff8f0c"/>
<rect x="1060.6" y="276" width="43.5" height="215.9" fill="#ffa616"/>
<rect x="1060.6" y="293" width="43.5" height="198.9" fill="#fec122"/>
<rect x="1060.6" y="309" width="43.5" height="182.9" fill="#ebcc25"/>
<rect x="1060.6" y="326" width="43.5" height="165.9" fill="#c4c41d"/>
<rect x="1060.6" y="343" width="43.5" height="148.9" fill="#a1bc17"/>
<rect x="1060.6" y="360" width="43.5" height="131.9" fill="#79b311"/>
<rect x="1060.6" y="377" width="43.5" height="114.9" fill="#4ca80f"/>
<rect x="1060.6" y="393" width="43.5" height="98.9" fill="#3f9842"/>
<rect x="1060.6" y="410" width="43.5" height="81.9" fill="#35866f"/>
<rect x="1060.6" y="427" width="43.5" height="64.9" fill="#007598"/>
<rect x="1060.6" y="444" width="43.5" height="47.9" fill="#005ac7"/>
<rect x="1060.6" y="461" width="43.5" height="30.9" fill="#0034f8"/>
</g>
<polygon points="1061.6,208.6 1082.3,195.2 1103.1,208.6 1103.1,477.4 1082.3,490.9 1061.6,477.4" fill="none" stroke="#000" stroke-width="1.667" stroke-linejoin="miter"/>
<clipPath id="cb1"><polygon points="1061.6,678.7 1082.3,665.3 1103.1,678.7 1103.1,947.5 1082.3,961 1061.6,947.5"/></clipPath>
<g clip-path="url(#cb1)" shape-rendering="crispEdges">
<rect x="1060.6" y="664.3" width="43.5" height="297.7" fill="#ff2900"/>
<rect x="1060.6" y="696" width="43.5" height="266" fill="#ff5400"/>
<rect x="1060.6" y="712" width="43.5" height="250" fill="#ff7703"/>
<rect x="1060.6" y="729" width="43.5" height="233" fill="#ff8f0c"/>
<rect x="1060.6" y="746" width="43.5" height="216" fill="#ffa616"/>
<rect x="1060.6" y="763" width="43.5" height="199" fill="#fec122"/>
<rect x="1060.6" y="780" width="43.5" height="182" fill="#ebcc25"/>
<rect x="1060.6" y="796" width="43.5" height="166" fill="#c4c41d"/>
<rect x="1060.6" y="813" width="43.5" height="149" fill="#a1bc17"/>
<rect x="1060.6" y="830" width="43.5" height="132" fill="#79b311"/>
<rect x="1060.6" y="847" width="43.5" height="115" fill="#4ca80f"/>
<rect x="1060.6" y="864" width="43.5" height="98" fill="#3f9842"/>
<rect x="1060.6" y="880" width="43.5" height="82" fill="#35866f"/>
<rect x="1060.6" y="897" width="43.5" height="65" fill="#007598"/>
<rect x="1060.6" y="914" width="43.5" height="48" fill="#005ac7"/>
<rect x="1060.6" y="931" width="43.5" height="31" fill="#0034f8"/>
</g>
<polygon points="1061.6,678.7 1082.3,665.3 1103.1,678.7 1103.1,947.5 1082.3,961 1061.6,947.5" fill="none" stroke="#000" stroke-width="1.667" stroke-linejoin="miter"/>
<clipPath id="cb2"><polygon points="1061.6,1148.8 1082.3,1135.4 1103.1,1148.8 1103.1,1417.6 1082.3,1431 1061.6,1417.6"/></clipPath>
<g clip-path="url(#cb2)" shape-rendering="crispEdges">
<rect x="1060.6" y="1134.4" width="43.5" height="297.7" fill="#ff2a00"/>
<rect x="1060.6" y="1167" width="43.5" height="265" fill="#ff4824"/>
<rect x="1060.6" y="1185" width="43.5" height="247" fill="#ff6749"/>
<rect x="1060.6" y="1203" width="43.5" height="229" fill="#ff856d"/>
<rect x="1060.6" y="1220" width="43.5" height="212" fill="#ffa492"/>
<rect x="1060.6" y="1238" width="43.5" height="194" fill="#ffc2b6"/>
<rect x="1060.6" y="1256" width="43.5" height="176" fill="#ffe1db"/>
<rect x="1060.6" y="1274" width="43.5" height="158" fill="#ffffff"/>
<rect x="1060.6" y="1292" width="43.5" height="140" fill="#dbe2ff"/>
<rect x="1060.6" y="1310" width="43.5" height="122" fill="#b6c5ff"/>
<rect x="1060.6" y="1328" width="43.5" height="104" fill="#92a8ff"/>
<rect x="1060.6" y="1346" width="43.5" height="86" fill="#6d8aff"/>
<rect x="1060.6" y="1364" width="43.5" height="68" fill="#496dff"/>
<rect x="1060.6" y="1382" width="43.5" height="50" fill="#2450ff"/>
<rect x="1060.6" y="1400" width="43.5" height="32" fill="#0033ff"/>
</g>
<polygon points="1061.6,1148.8 1082.3,1135.4 1103.1,1148.8 1103.1,1417.6 1082.3,1431 1061.6,1417.6" fill="none" stroke="#000" stroke-width="1.667" stroke-linejoin="miter"/>
<g style="opacity:0.995">
<text x="199" y="554.9" font-size="18.3" textLength="33.2" lengthAdjust="spacingAndGlyphs">−90</text>
<text x="336.3" y="554.9" font-size="18.3" textLength="33.2" lengthAdjust="spacingAndGlyphs">−60</text>
<text x="473.7" y="554.9" font-size="18.3" textLength="33.3" lengthAdjust="spacingAndGlyphs">−30</text>
<text x="623.3" y="554.9" font-size="18.3" textLength="8.8" lengthAdjust="spacingAndGlyphs">0</text>
<text x="755.4" y="554.9" font-size="18.3" textLength="19.4" lengthAdjust="spacingAndGlyphs">30</text>
<text x="892.8" y="554.9" font-size="18.3" textLength="19.3" lengthAdjust="spacingAndGlyphs">60</text>
<text x="1030.2" y="554.9" font-size="18.3" textLength="19.3" lengthAdjust="spacingAndGlyphs">90</text>
<text transform="translate(145.6 413.3) rotate(-90)" font-size="21.2" textLength="146.5" lengthAdjust="spacingAndGlyphs">pressure (mb)</text>
<text x="180.8" y="160.8" font-size="18.3" textLength="19.3" lengthAdjust="spacingAndGlyphs">50</text>
<text x="170.2" y="180.4" font-size="18.3" textLength="29.9" lengthAdjust="spacingAndGlyphs">100</text>
<text x="170.2" y="219.6" font-size="18.3" textLength="29.9" lengthAdjust="spacingAndGlyphs">200</text>
<text x="170.2" y="258.8" font-size="18.3" textLength="29.9" lengthAdjust="spacingAndGlyphs">300</text>
<text x="170.3" y="298" font-size="18.3" textLength="29.8" lengthAdjust="spacingAndGlyphs">400</text>
<text x="170.3" y="337.3" font-size="18.3" textLength="29.8" lengthAdjust="spacingAndGlyphs">500</text>
<text x="170.3" y="376.5" font-size="18.3" textLength="29.8" lengthAdjust="spacingAndGlyphs">600</text>
<text x="170.3" y="415.7" font-size="18.3" textLength="29.8" lengthAdjust="spacingAndGlyphs">700</text>
<text x="170.3" y="454.9" font-size="18.3" textLength="29.8" lengthAdjust="spacingAndGlyphs">800</text>
<text x="170.3" y="494.1" font-size="18.3" textLength="29.8" lengthAdjust="spacingAndGlyphs">900</text>
<text x="159.7" y="533.3" font-size="18.3" textLength="40.4" lengthAdjust="spacingAndGlyphs">1000</text>
<text x="567.4" y="140.3" font-size="25.8" textLength="121.5" lengthAdjust="spacingAndGlyphs">stoc_cmf1</text>
<text x="216.5" y="141.3" font-size="20.1" textLength="511.8" lengthAdjust="spacingAndGlyphs">stoc_cmf1.F2010-P3.ZMmicro.ne30pg2 (2010-2014)</text>
<text x="1028.5" y="141.3" font-size="20.1" textLength="12.6" lengthAdjust="spacingAndGlyphs" stroke="#000" stroke-width="0.2">K</text>
<text x="1112.2" y="468.1" font-size="20.6" textLength="52.5" lengthAdjust="spacingAndGlyphs">180.0</text>
<text x="1112.2" y="451.3" font-size="20.6" textLength="52.5" lengthAdjust="spacingAndGlyphs">185.0</text>
<text x="1112.2" y="434.5" font-size="20.6" textLength="52.5" lengthAdjust="spacingAndGlyphs">190.0</text>
<text x="1112.2" y="417.7" font-size="20.6" textLength="52.5" lengthAdjust="spacingAndGlyphs">200.0</text>
<text x="1112.2" y="400.9" font-size="20.6" textLength="52.5" lengthAdjust="spacingAndGlyphs">210.0</text>
<text x="1112.2" y="384.1" font-size="20.6" textLength="52.5" lengthAdjust="spacingAndGlyphs">220.0</text>
<text x="1112.2" y="367.3" font-size="20.6" textLength="52.5" lengthAdjust="spacingAndGlyphs">230.0</text>
<text x="1112.1" y="350.5" font-size="20.6" textLength="52.6" lengthAdjust="spacingAndGlyphs">240.0</text>
<text x="1112.2" y="333.7" font-size="20.6" textLength="52.5" lengthAdjust="spacingAndGlyphs">250.0</text>
<text x="1112.2" y="316.9" font-size="20.6" textLength="52.5" lengthAdjust="spacingAndGlyphs">260.0</text>
<text x="1112.2" y="300.1" font-size="20.6" textLength="52.5" lengthAdjust="spacingAndGlyphs">270.0</text>
<text x="1112.2" y="283.3" font-size="20.6" textLength="52.5" lengthAdjust="spacingAndGlyphs">280.0</text>
<text x="1112.2" y="266.5" font-size="20.6" textLength="52.5" lengthAdjust="spacingAndGlyphs">290.0</text>
<text x="1112.2" y="249.7" font-size="20.6" textLength="52.5" lengthAdjust="spacingAndGlyphs">295.0</text>
<text x="1112.2" y="232.9" font-size="20.6" textLength="52.5" lengthAdjust="spacingAndGlyphs">300.0</text>
<text x="199" y="1025" font-size="18.3" textLength="33.2" lengthAdjust="spacingAndGlyphs">−90</text>
<text x="336.3" y="1025" font-size="18.3" textLength="33.2" lengthAdjust="spacingAndGlyphs">−60</text>
<text x="473.7" y="1025" font-size="18.3" textLength="33.3" lengthAdjust="spacingAndGlyphs">−30</text>
<text x="623.3" y="1025" font-size="18.3" textLength="8.8" lengthAdjust="spacingAndGlyphs">0</text>
<text x="755.4" y="1025" font-size="18.3" textLength="19.4" lengthAdjust="spacingAndGlyphs">30</text>
<text x="892.8" y="1025" font-size="18.3" textLength="19.3" lengthAdjust="spacingAndGlyphs">60</text>
<text x="1030.2" y="1025" font-size="18.3" textLength="19.3" lengthAdjust="spacingAndGlyphs">90</text>
<text transform="translate(145.6 883.4) rotate(-90)" font-size="21.2" textLength="146.5" lengthAdjust="spacingAndGlyphs">pressure (mb)</text>
<text x="180.8" y="630.9" font-size="18.3" textLength="19.3" lengthAdjust="spacingAndGlyphs">50</text>
<text x="170.2" y="650.5" font-size="18.3" textLength="29.9" lengthAdjust="spacingAndGlyphs">100</text>
<text x="170.2" y="689.7" font-size="18.3" textLength="29.9" lengthAdjust="spacingAndGlyphs">200</text>
<text x="170.2" y="728.9" font-size="18.3" textLength="29.9" lengthAdjust="spacingAndGlyphs">300</text>
<text x="170.3" y="768.1" font-size="18.3" textLength="29.8" lengthAdjust="spacingAndGlyphs">400</text>
<text x="170.3" y="807.3" font-size="18.3" textLength="29.8" lengthAdjust="spacingAndGlyphs">500</text>
<text x="170.3" y="846.6" font-size="18.3" textLength="29.8" lengthAdjust="spacingAndGlyphs">600</text>
<text x="170.3" y="885.8" font-size="18.3" textLength="29.8" lengthAdjust="spacingAndGlyphs">700</text>
<text x="170.3" y="925" font-size="18.3" textLength="29.8" lengthAdjust="spacingAndGlyphs">800</text>
<text x="170.3" y="964.2" font-size="18.3" textLength="29.8" lengthAdjust="spacingAndGlyphs">900</text>
<text x="159.7" y="1003.4" font-size="18.3" textLength="40.4" lengthAdjust="spacingAndGlyphs">1000</text>
<text x="216.5" y="611.4" font-size="20.1" textLength="320.2" lengthAdjust="spacingAndGlyphs">MERRA2 Reanalysis (1980-2016)</text>
<text x="1028.5" y="611.4" font-size="20.1" textLength="12.6" lengthAdjust="spacingAndGlyphs" stroke="#000" stroke-width="0.2">K</text>
<text x="1112.2" y="938.2" font-size="20.6" textLength="52.5" lengthAdjust="spacingAndGlyphs">180.0</text>
<text x="1112.2" y="921.4" font-size="20.6" textLength="52.5" lengthAdjust="spacingAndGlyphs">185.0</text>
<text x="1112.2" y="904.6" font-size="20.6" textLength="52.5" lengthAdjust="spacingAndGlyphs">190.0</text>
<text x="1112.2" y="887.8" font-size="20.6" textLength="52.5" lengthAdjust="spacingAndGlyphs">200.0</text>
<text x="1112.2" y="871" font-size="20.6" textLength="52.5" lengthAdjust="spacingAndGlyphs">210.0</text>
<text x="1112.2" y="854.2" font-size="20.6" textLength="52.5" lengthAdjust="spacingAndGlyphs">220.0</text>
<text x="1112.2" y="837.4" font-size="20.6" textLength="52.5" lengthAdjust="spacingAndGlyphs">230.0</text>
<text x="1112.1" y="820.6" font-size="20.6" textLength="52.6" lengthAdjust="spacingAndGlyphs">240.0</text>
<text x="1112.2" y="803.8" font-size="20.6" textLength="52.5" lengthAdjust="spacingAndGlyphs">250.0</text>
<text x="1112.2" y="787" font-size="20.6" textLength="52.5" lengthAdjust="spacingAndGlyphs">260.0</text>
<text x="1112.2" y="770.2" font-size="20.6" textLength="52.5" lengthAdjust="spacingAndGlyphs">270.0</text>
<text x="1112.2" y="753.4" font-size="20.6" textLength="52.5" lengthAdjust="spacingAndGlyphs">280.0</text>
<text x="1112.2" y="736.6" font-size="20.6" textLength="52.5" lengthAdjust="spacingAndGlyphs">290.0</text>
<text x="1112.2" y="719.8" font-size="20.6" textLength="52.5" lengthAdjust="spacingAndGlyphs">295.0</text>
<text x="1112.2" y="703" font-size="20.6" textLength="52.5" lengthAdjust="spacingAndGlyphs">300.0</text>
<text x="199" y="1495.1" font-size="18.3" textLength="33.2" lengthAdjust="spacingAndGlyphs">−90</text>
<text x="336.3" y="1495.1" font-size="18.3" textLength="33.2" lengthAdjust="spacingAndGlyphs">−60</text>
<text x="473.7" y="1495.1" font-size="18.3" textLength="33.3" lengthAdjust="spacingAndGlyphs">−30</text>
<text x="623.3" y="1495.1" font-size="18.3" textLength="8.8" lengthAdjust="spacingAndGlyphs">0</text>
<text x="755.4" y="1495.1" font-size="18.3" textLength="19.4" lengthAdjust="spacingAndGlyphs">30</text>
<text x="892.8" y="1495.1" font-size="18.3" textLength="19.3" lengthAdjust="spacingAndGlyphs">60</text>
<text x="1030.2" y="1495.1" font-size="18.3" textLength="19.3" lengthAdjust="spacingAndGlyphs">90</text>
<text transform="translate(145.6 1353.5) rotate(-90)" font-size="21.2" textLength="146.5" lengthAdjust="spacingAndGlyphs">pressure (mb)</text>
<text x="180.8" y="1101" font-size="18.3" textLength="19.3" lengthAdjust="spacingAndGlyphs">50</text>
<text x="170.2" y="1120.6" font-size="18.3" textLength="29.9" lengthAdjust="spacingAndGlyphs">100</text>
<text x="170.2" y="1159.8" font-size="18.3" textLength="29.9" lengthAdjust="spacingAndGlyphs">200</text>
<text x="170.2" y="1199" font-size="18.3" textLength="29.9" lengthAdjust="spacingAndGlyphs">300</text>
<text x="170.3" y="1238.2" font-size="18.3" textLength="29.8" lengthAdjust="spacingAndGlyphs">400</text>
<text x="170.3" y="1277.4" font-size="18.3" textLength="29.8" lengthAdjust="spacingAndGlyphs">500</text>
<text x="170.3" y="1316.6" font-size="18.3" textLength="29.8" lengthAdjust="spacingAndGlyphs">600</text>
<text x="170.3" y="1355.9" font-size="18.3" textLength="29.8" lengthAdjust="spacingAndGlyphs">700</text>
<text x="170.3" y="1395.1" font-size="18.3" textLength="29.8" lengthAdjust="spacingAndGlyphs">800</text>
<text x="170.3" y="1434.3" font-size="18.3" textLength="29.8" lengthAdjust="spacingAndGlyphs">900</text>
<text x="159.7" y="1473.5" font-size="18.3" textLength="40.4" lengthAdjust="spacingAndGlyphs">1000</text>
<text x="507.4" y="1080.5" font-size="25.8" textLength="241.6" lengthAdjust="spacingAndGlyphs">Model - Observation</text>
<text x="1028.5" y="1080.5" font-size="20.1" textLength="12.6" lengthAdjust="spacingAndGlyphs" stroke="#000" stroke-width="0.2">K</text>
<text x="1107.1" y="1407.2" font-size="20.6" textLength="47.2" lengthAdjust="spacingAndGlyphs">-7.00</text>
<text x="1107.1" y="1389.3" font-size="20.6" textLength="47.2" lengthAdjust="spacingAndGlyphs">-6.00</text>
<text x="1107.1" y="1371.3" font-size="20.6" textLength="47.2" lengthAdjust="spacingAndGlyphs">-5.00</text>
<text x="1107" y="1353.4" font-size="20.6" textLength="47.4" lengthAdjust="spacingAndGlyphs">-4.00</text>
<text x="1107.1" y="1335.5" font-size="20.6" textLength="47.2" lengthAdjust="spacingAndGlyphs">-3.00</text>
<text x="1107.1" y="1317.6" font-size="20.6" textLength="47.2" lengthAdjust="spacingAndGlyphs">-2.00</text>
<text x="1107.1" y="1299.7" font-size="20.6" textLength="47.2" lengthAdjust="spacingAndGlyphs">-1.00</text>
<text x="1113.7" y="1281.7" font-size="20.6" textLength="40.6" lengthAdjust="spacingAndGlyphs">1.00</text>
<text x="1113.7" y="1263.8" font-size="20.6" textLength="40.6" lengthAdjust="spacingAndGlyphs">2.00</text>
<text x="1113.7" y="1245.9" font-size="20.6" textLength="40.6" lengthAdjust="spacingAndGlyphs">3.00</text>
<text x="1113.6" y="1228" font-size="20.6" textLength="40.8" lengthAdjust="spacingAndGlyphs">4.00</text>
<text x="1113.7" y="1210.1" font-size="20.6" textLength="40.6" lengthAdjust="spacingAndGlyphs">5.00</text>
<text x="1113.7" y="1192.1" font-size="20.6" textLength="40.6" lengthAdjust="spacingAndGlyphs">6.00</text>
<text x="1113.7" y="1174.2" font-size="20.6" textLength="40.6" lengthAdjust="spacingAndGlyphs">7.00</text>
<text x="1062.5" y="134.7" font-size="20.1" textLength="38.8" lengthAdjust="spacingAndGlyphs">Max</text>
<text x="1062.5" y="156.7" font-size="20.1" textLength="51.6" lengthAdjust="spacingAndGlyphs">Mean</text>
<text x="1062.5" y="178.7" font-size="20.1" textLength="33" lengthAdjust="spacingAndGlyphs">Min</text>
<text x="1121.1" y="134.7" font-size="20.1" textLength="67.1" lengthAdjust="spacingAndGlyphs">299.60</text>
<text x="1120.7" y="156.7" font-size="20.1" textLength="67.5" lengthAdjust="spacingAndGlyphs">248.92</text>
<text x="1120.8" y="178.7" font-size="20.1" textLength="67.3" lengthAdjust="spacingAndGlyphs">188.94</text>
<text x="1062.5" y="604.8" font-size="20.1" textLength="38.8" lengthAdjust="spacingAndGlyphs">Max</text>
<text x="1062.5" y="626.8" font-size="20.1" textLength="51.6" lengthAdjust="spacingAndGlyphs">Mean</text>
<text x="1062.5" y="648.8" font-size="20.1" textLength="33" lengthAdjust="spacingAndGlyphs">Min</text>
<text x="1120.8" y="604.8" font-size="20.1" textLength="67.3" lengthAdjust="spacingAndGlyphs">299.56</text>
<text x="1121" y="626.8" font-size="20.1" textLength="67.2" lengthAdjust="spacingAndGlyphs">249.11</text>
<text x="1121.2" y="648.8" font-size="20.1" textLength="67" lengthAdjust="spacingAndGlyphs">191.60</text>
<text x="1062.5" y="1074.9" font-size="20.1" textLength="38.8" lengthAdjust="spacingAndGlyphs">Max</text>
<text x="1062.5" y="1096.9" font-size="20.1" textLength="51.6" lengthAdjust="spacingAndGlyphs">Mean</text>
<text x="1062.5" y="1118.9" font-size="20.1" textLength="33" lengthAdjust="spacingAndGlyphs">Min</text>
<text x="1146" y="1074.9" font-size="20.1" textLength="42.2" lengthAdjust="spacingAndGlyphs">4.93</text>
<text x="1139" y="1096.9" font-size="20.1" textLength="49.2" lengthAdjust="spacingAndGlyphs">-0.18</text>
<text x="1138.6" y="1118.9" font-size="20.1" textLength="49.6" lengthAdjust="spacingAndGlyphs">-8.25</text>
<text x="1062.5" y="1461.8" font-size="20.1" textLength="53.6" lengthAdjust="spacingAndGlyphs">RMSE</text>
<text x="1062.5" y="1483.8" font-size="20.1" textLength="54.8" lengthAdjust="spacingAndGlyphs">CORR</text>
<text x="1146.2" y="1461.8" font-size="20.1" textLength="42" lengthAdjust="spacingAndGlyphs">1.08</text>
<text x="1146.5" y="1483.8" font-size="20.1" textLength="41.7" lengthAdjust="spacingAndGlyphs">1.00</text>
<text x="575.1" y="94" font-size="38.2" textLength="124.9" lengthAdjust="spacingAndGlyphs">T MAM</text>
</g>
</svg>
</body></html>
